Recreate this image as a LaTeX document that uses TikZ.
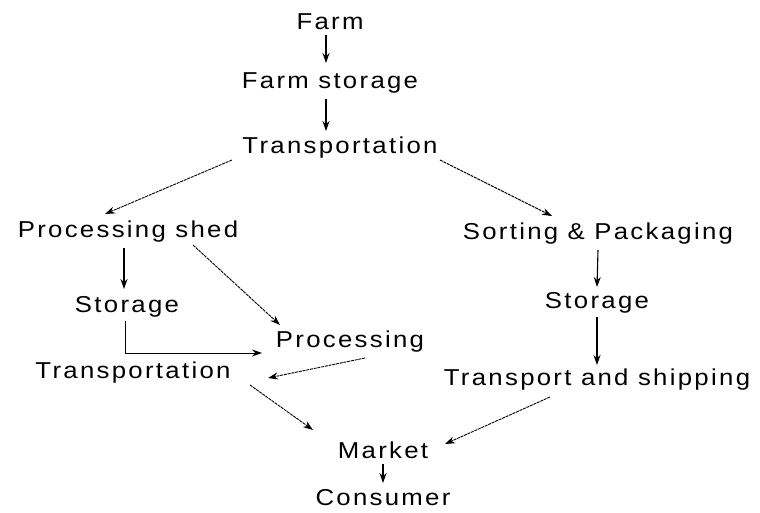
\documentclass[tikz,border=0pt]{standalone}
\usepackage{fontspec}
\setmainfont{Liberation Sans}[LetterSpace=10,FakeStretch=1.12]
\usetikzlibrary{arrows.meta,calc}
\begin{document}
\begin{tikzpicture}[x=1pt,y=-1pt,
  lbl/.style={font=\fontsize{23}{27}\selectfont, inner sep=1pt},
  arr/.style={-{Stealth[length=10pt,width=7pt]}, line width=1.1pt},
  darr/.style={-{Stealth[length=10pt,width=7pt]}, line width=0.9pt, dash pattern=on 3pt off 0.8pt}]
\useasboundingbox (0,0) rectangle (760,512);
\node[lbl] (farm)   at (330,22)  {Farm};
\node[lbl] (fstor)  at (330,83)  {Farm storage};
\node[lbl] (trans1) at (340,148) {Transportation};
\node[lbl] (pshed)  at (128,232) {Processing shed};
\node[lbl] (sort)   at (598,234) {Sorting \& Packaging};
\node[lbl] (stor1)  at (127,307) {Storage};
\node[lbl] (proc)   at (350,342) {Processing};
\node[lbl] (trans2) at (133,373) {Transportation};
\node[lbl] (stor2)  at (597,303) {Storage};
\node[lbl] (tship)  at (597,380) {Transport and shipping};
\node[lbl] (market) at (383,450) {Market};
\node[lbl] (cons)   at (383,498) {Consumer};

\draw[arr] ($(farm)+(-4,13)$) -- ($(fstor)+(-4,-20)$);
\draw[arr] ($(fstor)+(-4,16)$) -- ($(trans1)+(-14,-17)$);
\draw[darr] ($(trans1)+(-108,12)$) -- ($(pshed)+(-23,-18)$);
\draw[darr] ($(trans1)+(100,12)$) -- ($(sort)+(-46,-18)$);
\draw[arr] ($(pshed)+(-4,16)$) -- ($(stor1)+(-3,-18)$);
\draw[darr] ($(pshed)+(65,13)$) -- ($(proc)+(-70,-17)$);
\draw[arr, line width=0.9pt] ($(stor1)+(-2,14)$) |- ($(proc)+(-88,11)$);
\draw[darr] ($(proc)+(15,16)$) -- ($(trans2)+(135,5)$);
\draw[arr] ($(sort)+(0,16)$) -- ($(stor2)+(0,-16)$);
\draw[arr] ($(stor2)+(0,14)$) -- ($(tship)+(0,-15)$);
\draw[darr] ($(trans2)+(117,12)$) -- ($(market)+(-70,-20)$);
\draw[darr] ($(tship)+(-47,17)$) -- ($(market)+(62,-6)$);
\draw[arr] ($(market)+(0,14)$) -- ($(cons)+(0,-15)$);
\end{tikzpicture}
\end{document}
